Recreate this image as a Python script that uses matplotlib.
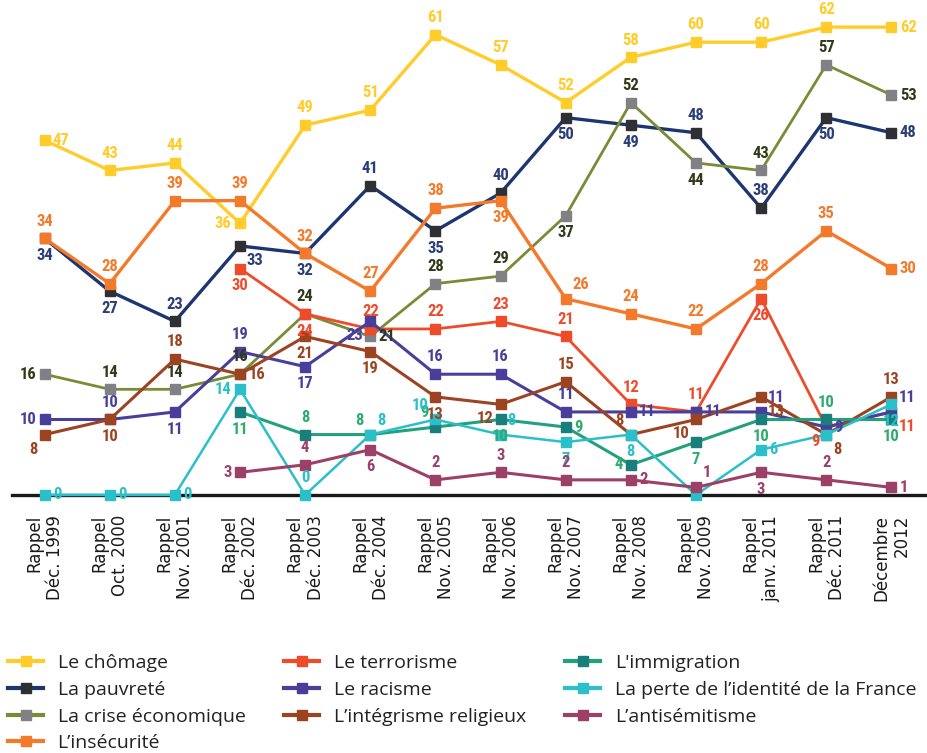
import numpy as np
import matplotlib
matplotlib.use("Agg")
import matplotlib.pyplot as plt
from matplotlib.lines import Line2D
from matplotlib import font_manager

nan = np.nan
periods = ["Rappel\nDéc. 1999", "Rappel\nOct. 2000", "Rappel\nNov. 2001", "Rappel\nDéc. 2002",
           "Rappel\nDéc. 2003", "Rappel\nDéc. 2004", "Rappel\nNov. 2005", "Rappel\nNov. 2006",
           "Rappel\nNov. 2007", "Rappel\nNov. 2008", "Rappel\nNov. 2009", "Rappel\njanv. 2011",
           "Rappel\nDéc. 2011", "Décembre\n2012"]

chomage      = [47, 43, 44, 36, 49, 51, 61, 57, 52, 58, 60, 60, 62, 62]
pauvrete     = [34, 27, 23, 33, 32, 41, 35, 40, 50, 49, 48, 38, 50, 48]
crise        = [16, 14, 14, 16, 24, 21, 28, 29, 37, 52, 44, 43, 57, 53]
insecurite   = [34, 28, 39, 39, 32, 27, 38, 39, 26, 24, 22, 28, 35, 30]
terrorisme   = [nan, nan, nan, 30, 24, 22, 22, 23, 21, 12, 11, 26, 9, 11]
racisme      = [10, 10, 11, 19, 17, 23, 16, 16, 11, 11, 11, 11, 9, 11]
integrisme   = [8, 10, 18, 16, 21, 19, 13, 12, 15, 8, 10, 13, 8, 13]
immigration  = [nan, nan, nan, 11, 8, 8, 9, 10, 9, 4, 7, 10, 10, 10]
identite     = [0, 0, 0, 14, 0, 8, 10, 8, 7, 8, 0, 6, 8, 12]
antisemitisme = [nan, nan, nan, 3, 4, 6, 2, 3, 2, 2, 1, 3, 2, 1]

# (name, values, line color, marker color, label color, linewidth, label placement)
series = [
    ("Le chômage", chomage, "#FFCC29", "#FFCC29", "#FFCC29", 2.4,
     ['r', 'a', 'a', 'l', 'a', 'a', 'a', 'a', 'a', 'a', 'a', 'a', 'a', 'r']),
    ("La pauvreté", pauvrete, "#1E3670", "#2F3033", "#2B3D78", 2.4,
     ['b', 'b', 'a', 'br', 'b', 'a', 'b', 'a', 'b', 'b', 'a', 'a', 'b', 'r']),
    ("La crise économique", crise, "#7A8B35", "#808085", "#2F3A18", 2.0,
     ['l', 'a', 'a', 'a', 'a', 'r', 'a', 'a', 'b', 'a', 'b', 'a', 'a', 'r']),
    ("L\u2019insécurité", insecurite, "#F47A2B", "#F47A2B", "#F47A2B", 2.4,
     ['a', 'a', 'a', 'a', 'a', 'a', 'a', 'b', 'ar', 'a', 'a', 'a', 'a', 'r']),
    ("Le terrorisme", terrorisme, "#EE4B2B", "#EE4B2B", "#EE4B2B", 2.0,
     [None, None, None, 'b', 'b', 'a', 'a', 'a', 'a', 'a', 'a', 'b', 'bl', 'br']),
    ("Le racisme", racisme, "#4A3E9B", "#4A3E9B", "#4A3E9B", 2.2,
     ['l', 'a', 'b', 'a', 'b', 'bl', 'a', 'a', 'a', 'r', 'r', 'ar', 'r', 'ar']),
    ("L\u2019intégrisme religieux", integrisme, "#9C4322", "#9C4322", "#9C4322", 2.2,
     ['bl', 'b', 'a', 'r', 'b', 'b', 'b', 'bl', 'a', 'al', 'bl', 'br', 'br', 'a']),
    ("L'immigration", immigration, "#23A07C", "#1A7F7C", "#2EAB6F", 2.2,
     [None, None, None, 'b', 'a', 'al', 'al', 'b', 'r', 'l', 'b', 'b', 'a', 'b']),
    ("La perte de l\u2019identité de la France", identite, "#2BBFCA", "#2BBFCA", "#2BBFCA", 1.8,
     ['r', 'r', 'r', 'l', 'a', 'ar', 'al', 'ar', 'b', 'b', None, 'r', None, 'b']),
    ("L\u2019antisémitisme", antisemitisme, "#9C4068", "#9C4068", "#9C4068", 2.2,
     [None, None, None, 'l', 'a', 'b', 'a', 'a', 'a', 'r', 'ar', 'b', 'a', 'r']),
]

offsets = {
    'a': ((0, 7), 'center', 'bottom'),
    'b': ((0, -7), 'center', 'top'),
    'r': ((6, 0), 'left', 'center'),
    'l': ((-6, 0), 'right', 'center'),
    'ar': ((5, 5), 'left', 'bottom'),
    'al': ((-5, 5), 'right', 'bottom'),
    'br': ((5, -5), 'left', 'top'),
    'bl': ((-5, -5), 'right', 'top'),
}

available = {f.name for f in font_manager.fontManager.ttflist}
label_font = [f for f in ['Liberation Sans Narrow', 'Roboto Condensed', 'Roboto', 'DejaVu Sans']
              if f in available] or ['DejaVu Sans']

W, H = 927, 753
fig = plt.figure(figsize=(W / 100, H / 100), dpi=100)
ax_left, ax_right = 12, 924
ax_top, ax_bottom = 12, 502.5
ax = fig.add_axes([ax_left / W, 1 - ax_bottom / H, (ax_right - ax_left) / W, (ax_bottom - ax_top) / H])
ax.set_xlim(-0.5, len(periods) - 0.5)
ax.set_ylim(-1, 64)

x = np.arange(len(periods))

for name, vals, lc, mc, tc, lw, place in series:
    v = np.array(vals, dtype=float)
    ax.plot(x, v, color=lc, lw=lw, marker='s', markersize=6.5, markerfacecolor=mc,
            markeredgecolor=mc, clip_on=False, zorder=3)
    for xi, yi, p in zip(x, v, place):
        if np.isnan(yi) or p is None:
            continue
        (dx, dy), ha, va = offsets[p]
        ax.annotate(f"{int(yi)}", (xi, yi), xytext=(dx, dy), textcoords='offset points',
                    ha=ha, va=va, color=tc, fontsize=12, fontweight='bold',
                    family=label_font, zorder=5, annotation_clip=False)

ax.axhline(0, color='#1a1a1a', lw=2.4, zorder=2, xmin=0, xmax=1.01, clip_on=False)
for s in ax.spines.values():
    s.set_visible(False)
ax.set_yticks([])
ax.set_xticks(x)
ax.set_xticklabels(periods, rotation=90, ha='center', va='top', multialignment='right',
                   fontsize=12, color='#1a1a1a', linespacing=1.2)
ax.tick_params(axis='x', length=0, pad=9)

handles = [Line2D([0], [0], color=lc, lw=3, marker='s', markersize=7,
                  markerfacecolor=mc, markeredgecolor=mc) for _, _, lc, mc, _, _, _ in series]
labels = [s[0] for s in series]
fig.legend(handles, labels, ncol=3, loc='upper left', bbox_to_anchor=(8 / W, 1 - 654 / H),
           frameon=False, prop={'family': 'Open Sans', 'size': 14}, handlelength=1.8,
           handletextpad=0.75, columnspacing=2.0, labelspacing=0.45, borderpad=0,
           borderaxespad=0, labelcolor='#222222')

fig.savefig("out.png", dpi=100)
